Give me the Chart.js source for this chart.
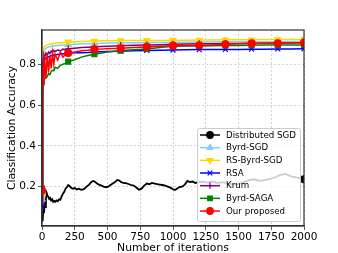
<!DOCTYPE html>
<html>
<head>
<meta charset="utf-8">
<script src="https://cdn.jsdelivr.net/npm/chart.js@4"></script>
<style>
  html, body { margin: 0; padding: 0; background: #fff; }
  #wrap { width: 338px; height: 253px; }
</style>
</head>
<body>
<div id="wrap"><canvas id="accChart"></canvas></div>
<script>
// shared iteration grid for the six converging methods
const iters = [0, 3, 6, 10, 15, 20, 30, 40, 50, 60, 70, 80, 90, 100, 120, 140, 160, 180, 200, 250, 300, 350, 400, 500, 600, 700, 800, 900, 1000, 1100, 1200, 1300, 1400, 1500, 1600, 1700, 1800, 1900, 2000];

const byrdSgd   = [0.14, 0.76, 0.84, 0.86, 0.868, 0.873, 0.878, 0.882, 0.884, 0.886, 0.888, 0.889, 0.890, 0.891, 0.892, 0.893, 0.894, 0.895, 0.896, 0.898, 0.900, 0.901, 0.902, 0.904, 0.905, 0.906, 0.907, 0.907, 0.908, 0.908, 0.909, 0.909, 0.910, 0.910, 0.911, 0.911, 0.911, 0.912, 0.912];
const rsByrdSgd = [0.15, 0.80, 0.86, 0.875, 0.882, 0.887, 0.892, 0.895, 0.897, 0.899, 0.900, 0.901, 0.902, 0.903, 0.905, 0.906, 0.907, 0.908, 0.910, 0.911, 0.912, 0.913, 0.914, 0.915, 0.916, 0.916, 0.917, 0.917, 0.918, 0.918, 0.919, 0.919, 0.920, 0.920, 0.920, 0.921, 0.921, 0.922, 0.922];
const rsa       = [0.10, 0.62, 0.76, 0.80, 0.815, 0.822, 0.83, 0.834, 0.837, 0.84, 0.842, 0.843, 0.845, 0.846, 0.848, 0.85, 0.851, 0.852, 0.854, 0.856, 0.857, 0.858, 0.86, 0.862, 0.864, 0.866, 0.868, 0.869, 0.870, 0.871, 0.872, 0.872, 0.873, 0.873, 0.874, 0.874, 0.875, 0.875, 0.876];
const krum      = [0.11, 0.70, 0.80, 0.83, 0.845, 0.835, 0.855, 0.845, 0.86, 0.852, 0.865, 0.858, 0.868, 0.862, 0.87, 0.866, 0.874, 0.87, 0.876, 0.879, 0.882, 0.884, 0.886, 0.888, 0.891, 0.893, 0.895, 0.896, 0.898, 0.899, 0.9, 0.901, 0.902, 0.902, 0.903, 0.903, 0.904, 0.904, 0.905];
const byrdSaga  = [0.19, 0.50, 0.64, 0.70, 0.72, 0.73, 0.733, 0.74, 0.755, 0.75, 0.765, 0.77, 0.768, 0.785, 0.78, 0.795, 0.80, 0.805, 0.813, 0.822, 0.835, 0.843, 0.849, 0.86, 0.867, 0.871, 0.875, 0.882, 0.888, 0.889, 0.89, 0.891, 0.892, 0.892, 0.893, 0.894, 0.894, 0.895, 0.895];
const proposed  = [0.18, 0.55, 0.72, 0.82, 0.70, 0.84, 0.73, 0.85, 0.76, 0.84, 0.78, 0.855, 0.80, 0.85, 0.82, 0.86, 0.835, 0.85, 0.855, 0.86, 0.866, 0.869, 0.873, 0.876, 0.878, 0.882, 0.885, 0.888, 0.891, 0.892, 0.893, 0.895, 0.898, 0.90, 0.902, 0.903, 0.903, 0.905, 0.906];

// distributed SGD (noisy, stays low)
const sgdIters = [0, 5, 10, 15, 20, 25, 30, 36, 42, 48, 55, 62, 70, 78, 86, 94, 100, 110, 120, 130, 140, 150, 160, 170, 180, 190, 200, 210, 220, 235, 250, 265, 280, 300, 320, 340, 360, 375, 390, 405, 420, 435, 450, 470, 490, 505, 520, 540, 560, 575, 590, 605, 620, 640, 660, 680, 700, 720, 740, 760, 780, 800, 820, 840, 860, 880, 900, 920, 940, 960, 980, 1000, 1015, 1030, 1050, 1070, 1090, 1110, 1130, 1150, 1170, 1200, 1230, 1260, 1300, 1340, 1380, 1420, 1460, 1500, 1540, 1580, 1620, 1660, 1700, 1740, 1780, 1820, 1860, 1900, 1940, 1970, 2000];
const distSgd  = [0.05, 0.03, 0.09, 0.07, 0.11, 0.10, 0.14, 0.168, 0.155, 0.15, 0.14, 0.145, 0.132, 0.138, 0.126, 0.13, 0.125, 0.132, 0.128, 0.138, 0.135, 0.152, 0.165, 0.175, 0.19, 0.198, 0.208, 0.203, 0.196, 0.19, 0.193, 0.186, 0.19, 0.184, 0.188, 0.2, 0.21, 0.222, 0.228, 0.224, 0.215, 0.21, 0.206, 0.2, 0.197, 0.2, 0.207, 0.215, 0.224, 0.233, 0.23, 0.222, 0.218, 0.217, 0.213, 0.208, 0.205, 0.196, 0.185, 0.19, 0.205, 0.215, 0.212, 0.218, 0.215, 0.212, 0.21, 0.208, 0.205, 0.2, 0.195, 0.187, 0.184, 0.19, 0.198, 0.2, 0.21, 0.228, 0.222, 0.225, 0.218, 0.222, 0.224, 0.22, 0.225, 0.218, 0.222, 0.215, 0.21, 0.212, 0.222, 0.232, 0.236, 0.228, 0.232, 0.238, 0.245, 0.258, 0.262, 0.25, 0.246, 0.24, 0.236];

const xTicks = [0, 250, 500, 750, 1000, 1250, 1500, 1750, 2000];
const yTicks = [0.2, 0.4, 0.6, 0.8];
const markEvery = [0, 200, 400, 600, 800, 1000, 1200, 1400, 1600, 1800, 2000];

function pts(xs, ys) {
    return xs.map((x, i) => ({ x: x, y: ys[i] }));
}

function series(label, xs, ys, color, style, rot, marks, lw) {
    return {
        label: label,
        data: pts(xs, ys),
        borderColor: color,
        backgroundColor: color,
        borderWidth: lw,
        pointStyle: style,
        rotation: rot,
        pointBorderWidth: 1.2,
        pointRadius: ctx => (ctx.raw && marks.includes(ctx.raw.x)) ? 3.5 : 0,
        tension: 0
    };
}

const datasets = [
    series('Distributed SGD', sgdIters, distSgd, '#000000', 'circle', 0, [2000], 1.8),
    series('Byrd-SGD', iters, byrdSgd, '#87ceeb', 'triangle', 0, markEvery, 1.5),
    series('RS-Byrd-SGD', iters, rsByrdSgd, '#ffd700', 'triangle', 180, markEvery, 1.5),
    series('RSA', iters, rsa, '#0000ff', 'crossRot', 0, markEvery, 1.5),
    series('Krum', iters, krum, '#800080', 'cross', 0, markEvery, 1.5),
    series('Byrd-SAGA', iters, byrdSaga, '#008000', 'rect', 0, markEvery, 1.5),
    series('Our proposed', iters, proposed, '#ff0000', 'circle', 0, markEvery, 1.5)
];
// later series on top, like matplotlib
datasets.forEach((d, i) => { d.order = datasets.length - 1 - i; });

const fontFam = 'DejaVu Sans';

// frame on all four sides + legend box inside the axes
const framePlugin = {
    id: 'frame',
    afterDraw(chart) {
        const c = chart.ctx, a = chart.chartArea;
        c.save();
        c.strokeStyle = '#333';
        c.lineWidth = 1.2;
        c.strokeRect(a.left, a.top, a.right - a.left, a.bottom - a.top);

        // legend
        const bx = 197, by = 128, bw = 103, bh = 93;
        c.fillStyle = 'rgba(255,255,255,0.8)';
        c.strokeStyle = '#cccccc';
        c.lineWidth = 1;
        c.beginPath();
        c.roundRect(bx + 0.5, by + 0.5, bw, bh, 2);
        c.fill();
        c.stroke();

        c.font = '8.7px "' + fontFam + '"';
        c.textBaseline = 'middle';
        c.textAlign = 'left';
        datasets.forEach((d, i) => {
            const y = 135 + i * 12.67;
            c.strokeStyle = d.borderColor;
            c.fillStyle = d.borderColor;
            c.lineWidth = 1.5;
            c.beginPath();
            c.moveTo(200, y);
            c.lineTo(220, y);
            c.stroke();
            c.lineWidth = 1.2;
            Chart.helpers.drawPoint(c, {
                pointStyle: d.pointStyle, rotation: d.rotation, radius: 3.3, borderWidth: 1.2
            }, 210, y);
            c.fillStyle = '#000';
            c.fillText(d.label, 226, y + 0.5);
        });
        c.restore();
    }
};

const gridOpts = {
    color: '#c8c8c8',
    lineWidth: 0.8,
    tickColor: '#333',
    tickBorderDash: [],
    tickLength: 4
};

const ctx = document.getElementById('accChart').getContext('2d');
const accChart = new Chart(ctx, {
    type: 'line',
    data: { datasets: datasets },
    options: {
        responsive: true,
        maintainAspectRatio: false,
        animation: false,
        events: [],
        layout: { padding: { top: 30, right: 34, left: 0, bottom: 0 } },
        plugins: {
            legend: { display: false },
            tooltip: { enabled: false }
        },
        scales: {
            x: {
                type: 'linear',
                min: 0,
                max: 2000,
                afterFit: s => { s.height = 27; },
                afterBuildTicks: s => { s.ticks = xTicks.map(v => ({ value: v })); },
                ticks: {
                    color: '#000',
                    padding: 1,
                    maxRotation: 0,
                    font: { family: fontFam, size: 10.5 },
                    callback: v => String(v)
                },
                grid: gridOpts,
                border: { display: true, color: '#333', width: 1.2, dash: [2, 2] },
                title: {
                    display: true,
                    text: 'Number of iterations',
                    color: '#000',
                    padding: { top: 0, bottom: -2 },
                    font: { family: fontFam, size: 10.8 }
                }
            },
            y: {
                type: 'linear',
                min: 0.007,
                max: 0.968,
                afterFit: s => { s.width = 42; },
                afterBuildTicks: s => { s.ticks = yTicks.map(v => ({ value: v })); },
                ticks: {
                    color: '#000',
                    padding: 2,
                    font: { family: fontFam, size: 10.5 },
                    callback: v => v.toFixed(1)
                },
                grid: gridOpts,
                border: { display: true, color: '#333', width: 1.2, dash: [2, 2] },
                title: {
                    display: true,
                    text: 'Classification Accuracy',
                    color: '#000',
                    padding: { top: 6, bottom: 0 },
                    font: { family: fontFam, size: 10.8 }
                }
            }
        }
    },
    plugins: [framePlugin]
});
</script>
</body>
</html>
